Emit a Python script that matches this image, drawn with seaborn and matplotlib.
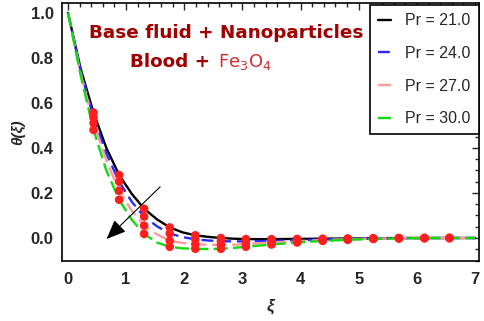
"""
Temperature profile theta(xi) for several Prandtl numbers
Blood + Fe3O4 nanofluid
"""

import numpy as np
import pandas as pd
import matplotlib
matplotlib.use('Agg')
import matplotlib.pyplot as plt
from matplotlib.ticker import MultipleLocator
import seaborn as sns

sns.set_style('white')
plt.rcParams['font.family'] = ['Liberation Sans', 'DejaVu Sans']

# data
xi = [0.0, 0.22, 0.44, 0.66, 0.88, 1.1, 1.31, 1.53, 1.75, 1.97, 2.19, 2.41,
      2.63, 2.84, 3.06, 3.5, 3.94, 4.38, 4.81, 5.25, 5.69, 6.13, 6.56, 7.0]
theta_21 = [1.0, 0.75, 0.557, 0.40, 0.28, 0.195, 0.13, 0.083, 0.047, 0.025, 0.012, 0.005,
            0.0, -0.003, -0.005, -0.005, -0.004, -0.003, -0.002, -0.001, 0.0, 0.0, 0.0, 0.0]
theta_24 = [1.0, 0.74, 0.536, 0.375, 0.25, 0.16, 0.095, 0.052, 0.02, 0.004, -0.006, -0.011,
            -0.014, -0.015, -0.015, -0.013, -0.01, -0.007, -0.004, -0.002, -0.001, 0.0, 0.0, 0.0]
theta_27 = [1.0, 0.73, 0.51, 0.345, 0.21, 0.12, 0.055, 0.016, -0.012, -0.022, -0.027, -0.03,
            -0.031, -0.03, -0.027, -0.02, -0.014, -0.009, -0.005, -0.003, -0.001, 0.0, 0.0, 0.0]
theta_30 = [1.0, 0.72, 0.48, 0.30, 0.17, 0.08, 0.018, -0.02, -0.039, -0.046, -0.048, -0.049,
            -0.048, -0.044, -0.039, -0.029, -0.02, -0.013, -0.008, -0.004, -0.002, -0.001, 0.0, 0.0]
pr_labels = ['21.0', '24.0', '27.0', '30.0']
# xi values where numerical solution points are marked
dot_xi = [0.44, 0.88, 1.31, 1.75, 2.19, 2.63, 3.06, 3.5, 3.94, 4.38, 4.81, 5.25, 5.69, 6.13, 6.56]

rows = []
for pr, th in zip(pr_labels, [theta_21, theta_24, theta_27, theta_30]):
    for x, y in zip(xi, th):
        rows.append({'xi': x, 'theta': y, 'Pr': pr})
df = pd.DataFrame(rows)
dots = df[df['xi'].isin(dot_xi)]

palette = {'21.0': 'black', '24.0': '#2a2aff', '27.0': '#ff9a9a', '30.0': '#14d814'}
dashes = {'21.0': '', '24.0': (5, 2.5), '27.0': (6, 2.5), '30.0': (6, 2.2)}

fig = plt.figure(figsize=(4.84, 3.21), dpi=100)
ax = fig.add_axes([0.128, 0.187, 0.862, 0.804])

sns.lineplot(data=df, x='xi', y='theta', hue='Pr', style='Pr', palette=palette,
             dashes=dashes, linewidth=1.7, legend=False, ax=ax, sort=False)
sns.scatterplot(data=dots, x='xi', y='theta', color='#ff1e1e', s=38,
                edgecolor='none', ax=ax, zorder=5, legend=False)

ax.annotate('', xy=(0.63, -0.013), xytext=(1.62, 0.236),
            arrowprops=dict(arrowstyle='-|>,head_length=1.2,head_width=0.5',
                            color='black', lw=0.8))

ax.set_xlim(-0.103, 7.07)
ax.set_ylim(-0.102, 1.044)
ax.xaxis.set_major_locator(MultipleLocator(1))
ax.xaxis.set_minor_locator(MultipleLocator(0.2))
ax.yaxis.set_major_locator(MultipleLocator(0.2))
ax.yaxis.set_minor_locator(MultipleLocator(0.05))
ax.tick_params(which='both', direction='in', top=True, right=True, width=1.0)
ax.tick_params(which='major', length=5, labelsize=12)
ax.tick_params(axis='x', which='major', pad=8)
ax.tick_params(axis='y', which='major', pad=6)
ax.tick_params(which='minor', length=3)
for lab in ax.get_xticklabels() + ax.get_yticklabels():
    lab.set_fontweight('bold')
for sp in ax.spines.values():
    sp.set_linewidth(1.2)
    sp.set_color('black')

ax.set_xlabel('ξ', fontsize=12, fontweight='bold', fontstyle='italic', labelpad=8)
ax.set_ylabel('θ(ξ)', fontsize=11, fontweight='bold', fontstyle='italic', labelpad=4)

handles = ax.get_lines()[:4]
leg = ax.legend(handles, ['Pr = ' + p for p in pr_labels], loc='upper right',
                bbox_to_anchor=(0.999, 0.99), fontsize=11.5, frameon=True, fancybox=False,
                handlelength=0.8, handletextpad=0.9, labelspacing=1.1,
                borderpad=0.5, borderaxespad=0.0, edgecolor='black', framealpha=1)
leg.get_frame().set_linewidth(1.2)

ax.text(0.066, 0.884, 'Base fluid + Nanoparticles', transform=ax.transAxes,
        color='#a00000', fontsize=13.2, fontweight='bold', va='center',
        family='DejaVu Sans')
t1 = ax.text(0.164, 0.771, 'Blood + ', transform=ax.transAxes,
             color='#a00000', fontsize=13.2, fontweight='bold', va='center',
             family='DejaVu Sans')
ax.annotate(r'Fe$_3$O$_4$', xy=(1.0, 0.5), xycoords=t1, xytext=(1, 0),
            textcoords='offset points', color='#d03030', fontsize=13,
            va='center', ha='left', family='DejaVu Sans')

fig.savefig('out.png', dpi=100)
